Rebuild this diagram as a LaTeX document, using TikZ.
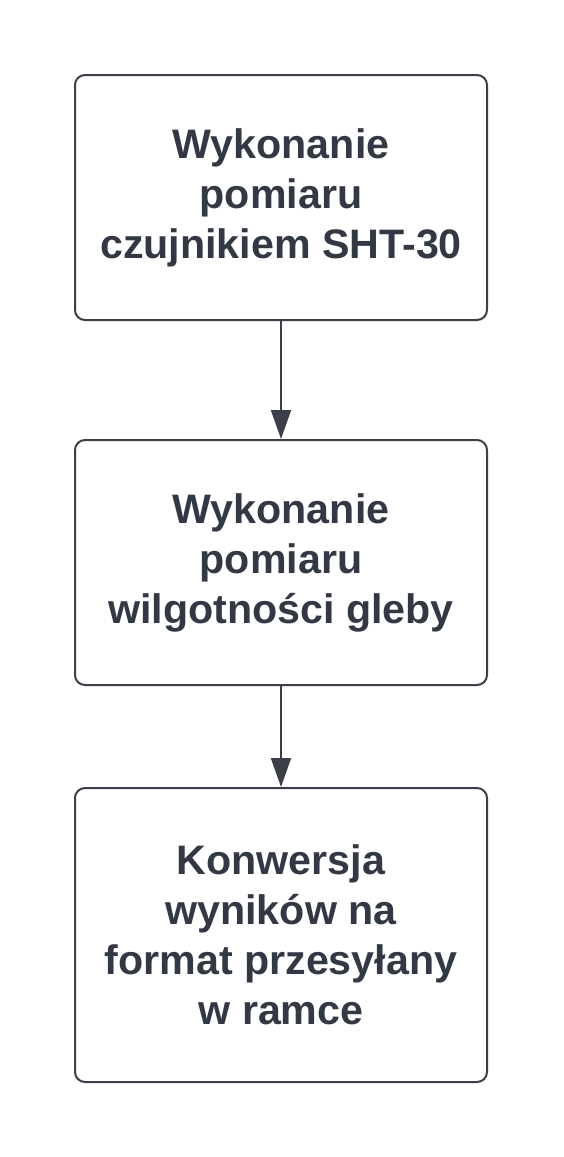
\documentclass[tikz,border=0pt]{standalone}
\usepackage{fontspec}
\setmainfont{Liberation Sans}
\usetikzlibrary{arrows.meta, positioning}
\definecolor{slategray}{HTML}{3A3F48}
\definecolor{textgray}{HTML}{333944}

\begin{document}
\begin{tikzpicture}[node distance=182.5pt]
\tikzstyle{stepbox} = [rectangle, rounded corners=5pt, minimum width=206pt, minimum height=122.5pt, align=center, draw=slategray, line width=1pt, text=textgray, font=\fontsize{20.6}{25}\selectfont\bfseries]
\tikzstyle{flowarrow} = [-{Triangle[length=14.5pt,width=10pt]}, line width=1pt, draw=slategray, fill=slategray]

\useasboundingbox (0,0) rectangle (281.5pt,-578.5pt);

\node (sht) [stepbox] at (140.5pt,-98.75pt) {Wykonanie\\pomiaru\\czujnikiem SHT-30};
\node (soil) [stepbox, below of=sht] {Wykonanie\\pomiaru\\wilgotności gleby};
\node (conv) [stepbox, below of=soil, yshift=-3.75pt, minimum height=147pt] {Konwersja\\wyników na\\format przesyłany\\w ramce};

\draw[flowarrow] (sht) -- (soil);
\draw[flowarrow] (soil) -- (conv);

\end{tikzpicture}
\end{document}
